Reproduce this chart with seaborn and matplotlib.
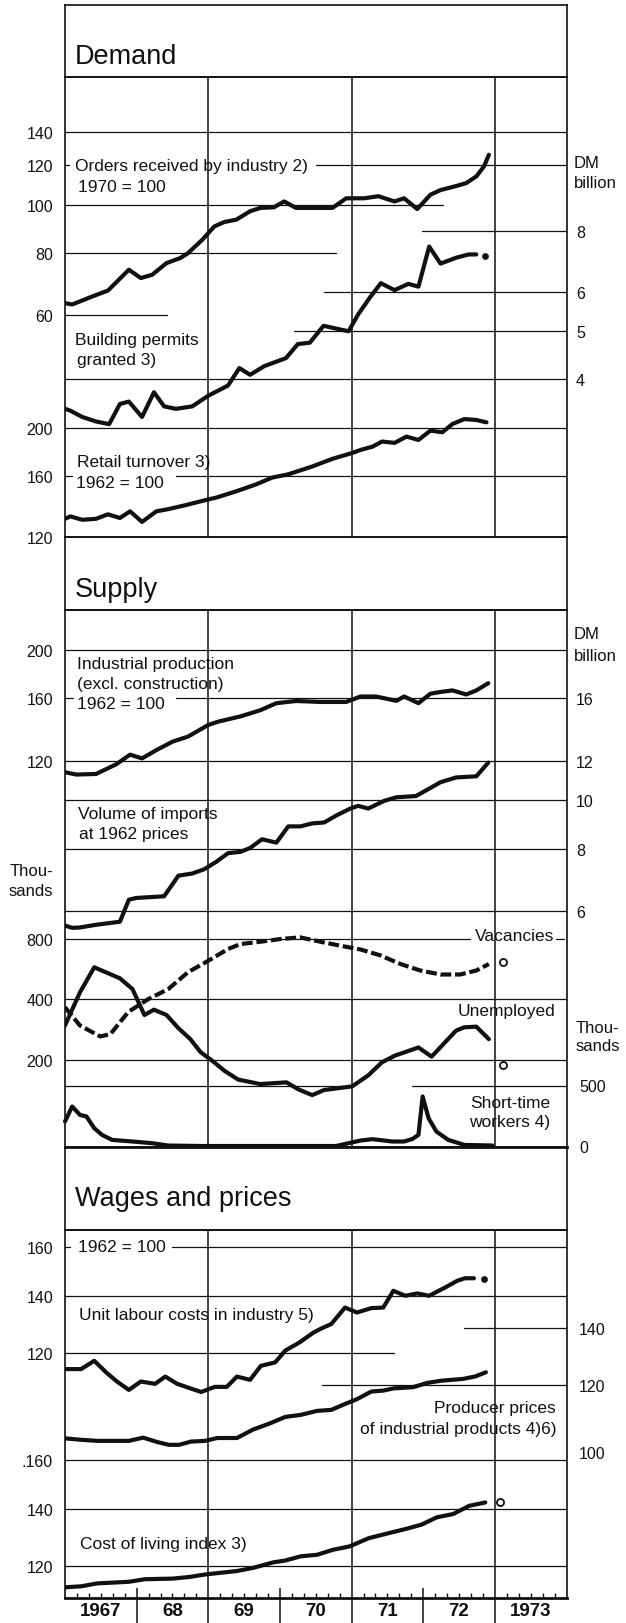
import numpy as np
import matplotlib
matplotlib.use("Agg")
import matplotlib.pyplot as plt
import seaborn as sns
from matplotlib.ticker import FixedLocator, NullLocator

sns.set_theme(style="white")
plt.rcParams['font.family'] = ['Liberation Sans', 'DejaVu Sans']

# ---------------- data (x = months since January 1967) ----------------
# Demand
orders_m = [0, 1.2, 4.6, 7.2, 10.7, 12.7, 14.6, 17, 19.3, 20.6, 23, 25, 26.7, 28.7, 31, 32.7, 35, 36.7,
            38.7, 41.4, 44.8, 47.1, 50.1, 52.5, 55.2, 56.8, 59, 61.2, 62.9, 65.5, 67.2, 68.9, 70.2, 71]
orders_v = [63.4, 63, 65.4, 67.2, 74, 71.2, 72.3, 76.3, 78.1, 79.9, 85, 90.4, 92.3, 93.3, 97, 98.5, 98.8, 101.5,
            98.5, 98.5, 98.5, 103, 103, 104, 101.5, 103, 98, 104.7, 107, 109, 110.5, 114, 119.5, 126]

permits_m = [0, 0.9, 2.9, 5.2, 7.4, 9.2, 10.7, 12.9, 14.9, 16.6, 18.6, 21.3, 24, 27.3, 29.2, 31, 33.4, 37, 39, 41,
             43.3, 47.5, 49.1, 51.1, 52.9, 55.2, 57.5, 59.2, 61, 62.9, 65.5, 67.6, 68.9]
permits_v = [3.48, 3.45, 3.35, 3.28, 3.24, 3.56, 3.60, 3.35, 3.76, 3.52, 3.48, 3.52, 3.70, 3.88, 4.21, 4.08, 4.25,
             4.41, 4.71, 4.74, 5.13, 5.00, 5.41, 5.86, 6.26, 6.06, 6.24, 6.16, 7.43, 6.86, 7.05, 7.16, 7.16]
permits_dot_m = [70.4]
permits_dot_v = [7.1]

retail_m = [0, 0.9, 2.9, 5.2, 7.2, 9.2, 10.9, 12.9, 15.3, 17.3, 20, 24, 25.3, 28.7, 32, 34.7, 37.4, 41.4, 44.8,
            48.1, 49.5, 51.5, 53.1, 55.2, 57.2, 59.2, 61.2, 63.2, 64.9, 66.9, 68.9, 70.6]
retail_v = [130.5, 132.0, 129.9, 130.5, 133.3, 131.0, 135.2, 128.6, 135.2, 136.6, 139.0, 143.0, 144.2, 148.6,
            153.5, 158.5, 161.0, 167.0, 173.2, 178.0, 180.6, 183.4, 187.9, 186.7, 192.3, 189.3, 197.8, 196.3,
            204.1, 208.9, 208.0, 205.7]

# Supply
indprod_m = [0, 1.9, 5.2, 8.6, 10.9, 12.9, 15.3, 18, 20.6, 24, 25.7, 29.4, 32.7, 35.4, 38.7, 42.8, 47.1, 49.5,
             52.1, 55.5, 56.8, 59.2, 61.2, 62.9, 64.9, 67.2, 68.9, 70.9]
indprod_v = [113.7, 112.5, 112.8, 118.0, 123.3, 121.2, 125.9, 130.9, 134.0, 141.4, 143.6, 147.1, 151.3, 156.3,
             157.9, 157.2, 157.2, 161.2, 161.2, 158.0, 161.2, 156.3, 163.3, 164.6, 165.8, 162.7, 165.8, 171.4]

imports_m = [0, 1.2, 2.5, 5.2, 9.2, 10.7, 11.9, 16.6, 19, 21.3, 23.3, 25.3, 27.3, 29.4, 31, 33, 35.4, 37.4, 39.4,
             41.4, 43.4, 45.4, 47.8, 49.1, 50.8, 53.5, 55.5, 58.8, 62.9, 65.5, 68.9, 70.9]
imports_v = [5.61, 5.55, 5.56, 5.63, 5.71, 6.32, 6.37, 6.42, 7.06, 7.13, 7.27, 7.52, 7.83, 7.88, 8.02, 8.35, 8.22,
             8.86, 8.86, 8.98, 9.02, 9.31, 9.62, 9.74, 9.62, 9.97, 10.13, 10.19, 10.86, 11.10, 11.16, 11.89]

vacancies_m = [0, 2.5, 5.9, 7.6, 10.6, 13.9, 17.3, 20.6, 24, 27.3, 29.4, 32.7, 36.1, 39.4, 42.8, 46.1, 49.5, 52.8,
               56.2, 59.5, 62.9, 66.2, 68.9, 71]
vacancies_v = [365, 296, 261, 268, 346, 400, 450, 546, 623, 713, 755, 775, 800, 815, 775, 741, 709, 663, 600, 557,
               532, 532, 557, 600]
vacancies_pt_m = [73.3]
vacancies_pt_v = [611]

unemployed_m = [0, 2.5, 4.9, 9.2, 11.3, 13.3, 14.9, 17, 19, 21, 22.7, 24.7, 26.7, 29, 32.7, 37.1, 39.1, 41.4, 43.4,
                48.1, 50.8, 53.1, 55.2, 59.2, 61.4, 65.5, 66.9, 68.9, 71]
unemployed_v = [296, 433, 578, 509, 450, 334, 355, 334, 287, 253, 218, 197, 176, 159, 151, 154, 142, 133, 141, 147,
                167, 194, 209, 230, 207, 279, 290, 292, 253]
unemployed_pt_m = [73.3]
unemployed_pt_v = [188]

shorttime_m = [0, 1.2, 2.5, 3.6, 4.9, 6.2, 7.9, 11.3, 14.6, 17.3, 22.7, 45.4, 49.5, 51.5, 54.8, 56.8, 58.2, 59.2,
               59.9, 60.9, 62.2, 64.2, 66.9, 71.6]
shorttime_v = [205, 328, 259, 246, 150, 95, 54, 41, 27, 8, 4, 4, 49, 60, 41, 41, 62, 95, 410, 232, 123, 54, 13, 8]

# Wages and prices
ulc_m = [0, 2.7, 4.9, 7, 8.7, 10.7, 12.7, 15.1, 16.8, 18.8, 20.6, 22.8, 25.1, 27.1, 28.8, 31, 32.8, 35.2, 36.9,
         39.2, 41.6, 42.9, 44.6, 46.9, 48.9, 51.3, 53.3, 55, 57, 59, 61, 63.7, 65.7, 67, 68.5]
ulc_v = [115.0, 115.0, 117.6, 113.8, 111.2, 108.7, 111.2, 110.5, 112.7, 110.5, 109.4, 108.1, 109.6, 109.6, 112.7,
         111.7, 116.0, 117.1, 120.9, 123.5, 126.9, 128.3, 129.9, 135.8, 134.0, 135.6, 135.8, 142.1, 140.2, 141.1,
         140.2, 143.4, 146.0, 147.0, 147.0]
ulc_dot_m = [70.2]
ulc_dot_v = [146.6]

producer_m = [0, 2.7, 5.4, 10.7, 13.1, 15.4, 17.4, 19.1, 21.1, 23.5, 25.5, 28.8, 31.5, 34.2, 36.9, 39.5, 42.2,
              44.6, 46.9, 48.9, 51.3, 53.3, 55, 58.3, 60.7, 63, 66.7, 68.7, 70.5]
producer_v = [103.8, 103.4, 103.1, 103.1, 104.0, 102.8, 102.0, 102.0, 102.9, 103.1, 103.9, 103.9, 106.3, 108.0,
              110.0, 110.6, 111.8, 112.1, 113.9, 115.4, 117.8, 118.1, 118.8, 119.2, 120.6, 121.3, 121.9, 122.7, 124.1]

living_m = [0, 2.7, 5.4, 10.7, 13.4, 18.1, 20.8, 23.5, 28.8, 31.5, 34.9, 36.9, 39.5, 42.2, 44.9, 47.6, 50.9, 54.3,
            57, 59.7, 62.3, 65, 67.7, 70.4]
living_v = [113.3, 113.6, 114.5, 115.0, 115.8, 116.0, 116.5, 117.3, 118.4, 119.4, 121.2, 121.8, 123.2, 123.7,
            125.4, 126.5, 129.4, 131.2, 132.6, 134.2, 136.9, 138.1, 141.2, 142.5]
living_pt_m = [72.9]
living_pt_v = [142.8]

year_ticks = [6, 18, 30, 42, 54, 66, 78]
year_labels = ['1967', '68', '69', '70', '71', '72', '1973']

# ---------------- layout helpers ----------------
W, H = 626, 1624
XL, XR = 65.0, 566.5
INK = '#111111'
LW = 3.0
TXT = 12.5

fig = plt.figure(figsize=(W / 100, H / 100), dpi=100)


def rect(top, bottom):
    return [XL / W, 1 - bottom / H, (XR - XL) / W, (bottom - top) / H]


def fx(px):
    return (px - XL) / (XR - XL)


def label(x, y, s, ha='left', size=TXT, **kw):
    fig.text(x / W, 1 - y / H, s, ha=ha, va='center', fontsize=size, color=INK, **kw)


def box(top, bottom, lw=1.2):
    ax = fig.add_axes(rect(top, bottom))
    ax.set_facecolor('none')
    ax.set_xticks([])
    ax.set_yticks([])
    ax.set_xlim(0, 84)
    for s in ax.spines.values():
        s.set_color(INK)
        s.set_linewidth(lw)
    return ax


def panel(top, bottom):
    ax = box(top, bottom)
    for m in (24, 48, 72):
        ax.axvline(m, color=INK, lw=1.1, zorder=1)
    return ax


def scale(parent, top, bottom, vref, yref, k=None, ticks=(), labels=None, side='left', pad=8.6, linear=None):
    a = parent.twinx()
    a.patch.set_visible(False)
    if linear is None:
        a.set_yscale('log')
        a.set_ylim(vref * np.exp((yref - bottom) / k), vref * np.exp((yref - top) / k))
    else:
        a.set_ylim(vref - (bottom - yref) / linear, vref + (yref - top) / linear)
    a.yaxis.set_major_locator(FixedLocator(list(ticks)))
    a.yaxis.set_minor_locator(NullLocator())
    a.set_yticklabels(labels if labels else [str(t) for t in ticks])
    a.yaxis.set_ticks_position(side)
    a.tick_params(axis='y', which='both', length=0, pad=pad, labelsize=11.5, colors=INK,
                  labelleft=(side == 'left'), labelright=(side == 'right'))
    for s in a.spines.values():
        s.set_visible(False)
    return a


def g(a, v, x0=XL, x1=XR, lw=0.9):
    a.axhline(v, xmin=fx(x0), xmax=fx(x1), color=INK, lw=lw, zorder=1)


def line(a, m, v, **kw):
    sns.lineplot(x=m, y=v, ax=a, color=INK, linewidth=LW, errorbar=None, zorder=3,
                 solid_joinstyle='round', **kw)


def dot(a, m, v, filled=True):
    if filled:
        sns.scatterplot(x=m, y=v, ax=a, color=INK, s=20, edgecolor=INK, zorder=4)
    else:
        sns.scatterplot(x=m, y=v, ax=a, color='white', s=26, edgecolor=INK, linewidth=1.3, zorder=4)


# ---------------- Demand ----------------
box(6, 78)
label(75, 57, 'Demand', size=19.5)
pd_ = panel(78, 538)

a_ord = scale(pd_, 78, 538, 140, 133, 216, ticks=[60, 80, 100, 120, 140])
g(a_ord, 140)
g(a_ord, 120, XL, 69)
g(a_ord, 120, 316, XR)
g(a_ord, 100, XL, 443)
g(a_ord, 80, XL, 336)
g(a_ord, 60, XL, 167)
line(a_ord, orders_m, orders_v)

a_bp = scale(pd_, 78, 538, 8, 231.7, 214, ticks=[4, 5, 6, 8], side='right', pad=6.8)
g(a_bp, 8, 422, XR)
g(a_bp, 6, 324, XR)
g(a_bp, 5, 294, XR)
g(a_bp, 4)
line(a_bp, permits_m, permits_v)
dot(a_bp, permits_dot_m, permits_dot_v)

a_ret = scale(pd_, 78, 538, 200, 429.3, 212, ticks=[120, 160, 200])
g(a_ret, 200)
g(a_ret, 160, XL, 72)
g(a_ret, 160, 176, XR)
line(a_ret, retail_m, retail_v)
pd_.set_xlim(0, 84)

label(75, 167, 'Orders received by industry 2)')
label(78, 188, '1970 = 100')
label(75, 341, 'Building permits')
label(77, 361, 'granted 3)')
label(574, 163, 'DM', size=12)
label(574, 183, 'billion', size=12)
label(77, 463, 'Retail turnover 3)')
label(76, 484, '1962 = 100')

# ---------------- Supply ----------------
box(538, 611)
label(75, 590, 'Supply', size=19.5)
ps = panel(611, 1148)
ps.spines['bottom'].set_linewidth(2.0)

a_ind = scale(ps, 611, 1148, 200, 650.7, 217, ticks=[120, 160, 200])
g(a_ind, 200)
g(a_ind, 160, XL, 73)
g(a_ind, 160, 176, XR)
g(a_ind, 120)
line(a_ind, indprod_m, indprod_v)

a_imp = scale(ps, 611, 1148, 20, 650.7, 217, ticks=[6, 8, 10, 12, 16], side='right', pad=6.8)
g(a_imp, 10)
g(a_imp, 8)
g(a_imp, 6)
line(a_imp, imports_m, imports_v)

a_lab = scale(ps, 611, 1148, 800, 940, 87, ticks=[200, 400, 800])
g(a_lab, 800, XL, 470)
g(a_lab, 800, 556, 564)
g(a_lab, 400)
g(a_lab, 200)
line(a_lab, vacancies_m, vacancies_v, linestyle=(0, (2.6, 0.9)))
line(a_lab, unemployed_m, unemployed_v)
dot(a_lab, vacancies_pt_m, vacancies_pt_v, filled=False)
dot(a_lab, unemployed_pt_m, unemployed_pt_v, filled=False)

a_st = scale(ps, 611, 1148, 0, 1147.5, ticks=[0, 500], side='right', pad=9, linear=61 / 500)
g(a_st, 500, XL, 352)
g(a_st, 500, 412, XR)
line(a_st, shorttime_m, shorttime_v, clip_on=False)
ps.set_xlim(0, 84)

label(77, 664, 'Industrial production')
label(77, 685, '(excl. construction)')
label(77, 705, '1962 = 100')
label(574, 635, 'DM', size=12)
label(574, 657, 'billion', size=12)
label(78, 815, 'Volume of imports')
label(79, 835, 'at 1962 prices')
label(53, 872, 'Thou-', ha='right', size=12)
label(53, 892, 'sands', ha='right', size=12)
label(554, 937, 'Vacancies', ha='right')
label(555, 1012, 'Unemployed', ha='right')
label(576, 1029, 'Thou-', size=12)
label(576, 1047, 'sands', size=12)
label(510, 1103, 'Short-time', ha='center')
label(510, 1123, 'workers 4)', ha='center')

# ---------------- Wages and prices ----------------
box(1148, 1231)
label(75, 1199, 'Wages and prices', size=19.5)
pw = panel(1231, 1599)
pw.spines['bottom'].set_linewidth(2.0)

a_ulc = scale(pw, 1231, 1599, 140, 1297.3, 370, ticks=[120, 140, 160])
g(a_ulc, 160, XL, 70)
g(a_ulc, 160, 172, XR)
g(a_ulc, 140)
g(a_ulc, 120, XL, 394)
line(a_ulc, ulc_m, ulc_v)
dot(a_ulc, ulc_dot_m, ulc_dot_v)

a_pp = scale(pw, 1231, 1599, 120, 1385.7, 370, ticks=[100, 120, 140], side='right', pad=9)
g(a_pp, 140, 464, XR)
g(a_pp, 120, 322, XR)
line(a_pp, producer_m, producer_v)

a_col = scale(pw, 1231, 1599, 140, 1510, 370, ticks=[120, 140, 160], labels=['120', '140', '.160'])
g(a_col, 160)
g(a_col, 140)
g(a_col, 120)
line(a_col, living_m, living_v)
dot(a_col, living_pt_m, living_pt_v, filled=False)

pw.set_xlim(0, 84)
pw.set_xticks([12, 24, 36, 48, 60, 72])
pw.set_xticks([m for m in range(2, 84, 2) if m % 12], minor=True)
pw.tick_params(axis='x', which='major', bottom=True, direction='out', length=18, width=1.1,
               color=INK, labelbottom=False)
pw.tick_params(axis='x', which='minor', bottom=True, direction='in', length=3.5, width=1.0, color=INK)

sec_in = pw.secondary_xaxis('bottom')
sec_in.set_xticks([12, 36, 60], labels=['', '', ''])
sec_in.tick_params(direction='in', length=7, width=1.1, color=INK)
sec_in.spines['bottom'].set_visible(False)

sec = pw.secondary_xaxis('bottom')
sec.set_xticks(year_ticks, labels=year_labels)
sec.tick_params(length=0, pad=3, labelsize=13.5, colors=INK)
for t in sec.get_xticklabels():
    t.set_fontweight('bold')
sec.spines['bottom'].set_visible(False)

label(78, 1248, '1962 = 100')
label(79, 1316, 'Unit labour costs in industry 5)')
label(556, 1409, 'Producer prices', ha='right')
label(557, 1430, 'of industrial products 4)6)', ha='right')
label(80, 1545, 'Cost of living index 3)')

fig.savefig('out.png', dpi=100)
